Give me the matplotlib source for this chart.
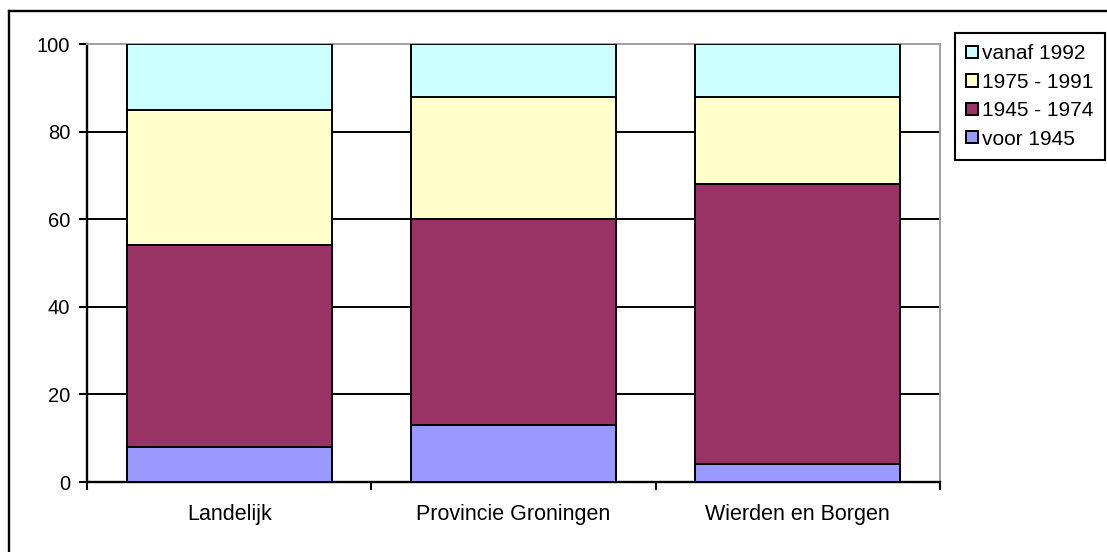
import matplotlib
matplotlib.use("Agg")
import matplotlib.pyplot as plt
from matplotlib.lines import Line2D
import numpy as np

categories = ["Landelijk", "Provincie Groningen", "Wierden en Borgen"]
series_names = ["voor 1945", "1945 - 1974", "1975 - 1991", "vanaf 1992"]
voor_1945 = [8, 13, 4]
p1945_1974 = [46, 47, 64]
p1975_1991 = [31, 28, 20]
vanaf_1992 = [15, 12, 12]
colors = ["#9999FF", "#993366", "#FFFFCC", "#CCFFFF"]
yticks = [0, 20, 40, 60, 80, 100]

plt.rcParams['font.family'] = ['Liberation Sans', 'DejaVu Sans']
W, H = 1107, 552
fig = plt.figure(figsize=(W/100, H/100), dpi=100)
ax = fig.add_axes([87/W, 1-482/H, (940-87)/W, (482-44)/H])

x = np.arange(len(categories))
bottom = np.zeros(len(categories))
handles = []
for name, vals, c in zip(series_names, [voor_1945, p1945_1974, p1975_1991, vanaf_1992], colors):
    b = ax.bar(x, vals, width=0.72, bottom=bottom, color=c, edgecolor='black',
               linewidth=1.4, label=name, zorder=3)
    handles.append(b)
    bottom += np.array(vals)

ax.set_xlim(-0.5, len(categories)-0.5)
ax.set_ylim(0, 100)
ax.set_yticks(yticks)
ax.set_xticks(x)
ax.set_xticklabels(categories)
ax.set_xticks(np.arange(-0.5, len(categories), 1.0), minor=True)
ax.tick_params(axis='x', which='major', length=0, pad=16, labelsize=15.5)
ax.tick_params(axis='x', which='minor', length=6, width=1.5, direction='out')
ax.tick_params(axis='y', length=6, width=1.5, direction='out', pad=6, labelsize=14.5)

ax.yaxis.grid(True, color='black', linewidth=1.4, zorder=1)
ax.set_axisbelow(True)
ax.get_ygridlines()[-1].set_visible(False)
ax.get_ygridlines()[0].set_visible(False)

for s in ['left', 'bottom']:
    ax.spines[s].set_linewidth(1.7)
    ax.spines[s].set_color('black')
for s in ['top', 'right']:
    ax.spines[s].set_linewidth(1.4)
    ax.spines[s].set_color('#A0A0A0')

leg = fig.legend(handles[::-1], series_names[::-1], loc='upper left',
                 bbox_to_anchor=(955/W, 1-33/H), borderaxespad=0,
                 fancybox=False, edgecolor='black', framealpha=1,
                 fontsize=15, handlelength=0.53, handleheight=0.53,
                 handletextpad=0.2, labelspacing=0.45, borderpad=0.55)
leg.get_frame().set_linewidth(1.5)

fig.add_artist(Line2D([9/W, 9/W], [0, 1-11/H], color='black', linewidth=1.7))
fig.add_artist(Line2D([9/W, 1], [1-11/H, 1-11/H], color='black', linewidth=1.7))

fig.savefig("out.png", dpi=100)
